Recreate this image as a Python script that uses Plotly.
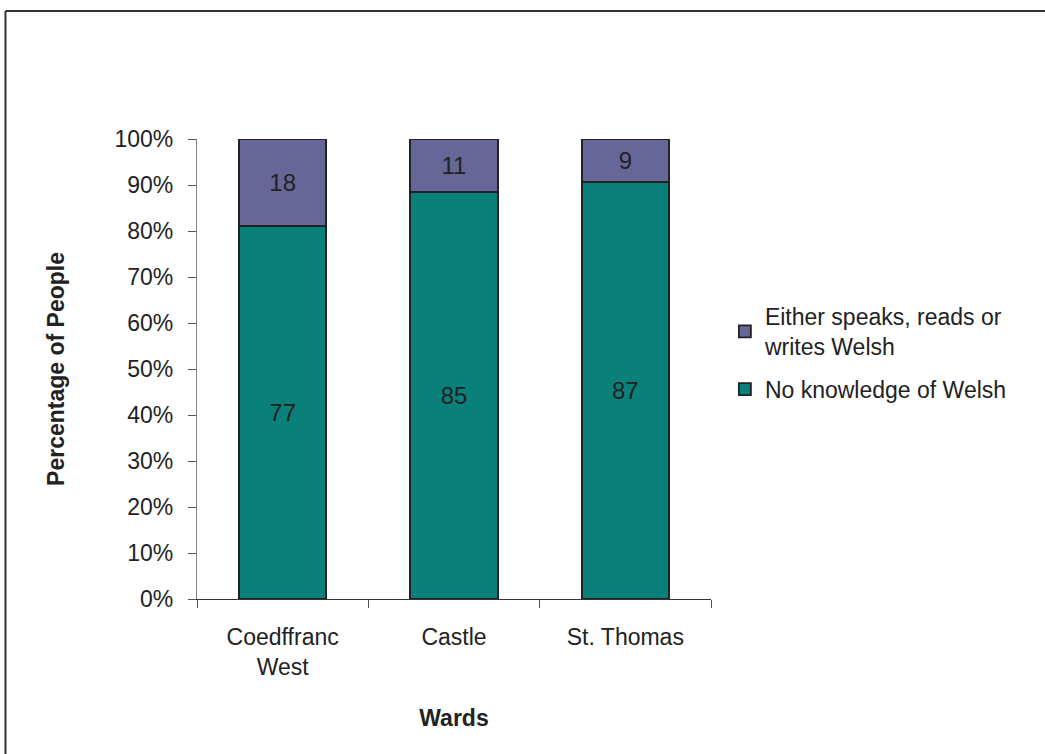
import plotly.graph_objects as go

# Ward categories and counts (percent of people) per Welsh-knowledge group
wards = ["Coedffranc<br>West", "Castle", "St. Thomas"]
no_knowledge = [77, 85, 87]
some_welsh = [18, 11, 9]
tick_vals = [0, 10, 20, 30, 40, 50, 60, 70, 80, 90, 100]
tick_text = [f"{v}%" for v in tick_vals]

TEAL = "#0a807a"
PURPLE = "#666699"
EDGE = "#222222"
FONT = "Liberation Sans, Arial, sans-serif"
LABEL_FONT = dict(size=24, color="#222222", family=FONT)

fig = go.Figure()
fig.add_trace(go.Bar(
    x=wards, y=no_knowledge, name="No knowledge of Welsh",
    legendgroup="none", legendrank=2,
    marker=dict(color=TEAL, line=dict(color=EDGE, width=1.8)),
    text=no_knowledge, texttemplate="%{text}", textposition="inside",
    insidetextanchor="middle", textfont=LABEL_FONT,
    width=0.51,
))
fig.add_trace(go.Bar(
    x=wards, y=some_welsh, name="Either speaks, reads or<br>writes Welsh",
    legendgroup="some", legendrank=1,
    marker=dict(color=PURPLE, line=dict(color=EDGE, width=1.8)),
    text=some_welsh, texttemplate="%{text}", textposition="inside",
    insidetextanchor="middle", textfont=LABEL_FONT,
    width=0.51,
))

fig.update_layout(
    width=1045, height=754,
    barmode="stack", barnorm="percent",
    plot_bgcolor="white", paper_bgcolor="white",
    margin=dict(l=197, r=334, t=139, b=155, autoexpand=False),
    font=dict(family=FONT, size=23, color="#222222"),
    showlegend=True,
    legend=dict(
        x=1.027, y=0.535, xanchor="left", yanchor="middle",
        traceorder="grouped", tracegroupgap=10,
        font=dict(size=23, color="#222222"),
        itemwidth=30, bgcolor="rgba(0,0,0,0)",
    ),
)

fig.update_xaxes(
    range=[-0.5, 2.5], showline=True, linecolor="#333333", linewidth=1.2,
    ticks="outside", tickson="boundaries", ticklen=8, tickcolor="#555555",
    showgrid=False, tickfont=dict(size=23), ticklabelstandoff=17,
    title=dict(text="<b>Wards</b>", font=dict(size=23), standoff=31),
    automargin=False,
)
fig.update_yaxes(
    range=[0, 100], tickvals=tick_vals, ticktext=tick_text,
    showline=True, linecolor="#808080", linewidth=1.2,
    ticks="outside", ticklen=8, tickcolor="#555555",
    showgrid=False, zeroline=False, tickfont=dict(size=23), ticklabelstandoff=10,
    title=dict(text="<b>Percentage of People</b>", font=dict(size=23), standoff=43),
    automargin=False,
)

# Outer frame around the chart (left and top edges)
frame = dict(type="line", xref="paper", yref="paper",
             line=dict(color="#333333", width=2))
fig.add_shape(**frame, x0=-0.3726, x1=-0.3726, y0=1.278, y1=-0.35)
fig.add_shape(**frame, x0=-0.3726, x1=1.70, y0=1.278, y1=1.278)

fig.write_html("out.html")
